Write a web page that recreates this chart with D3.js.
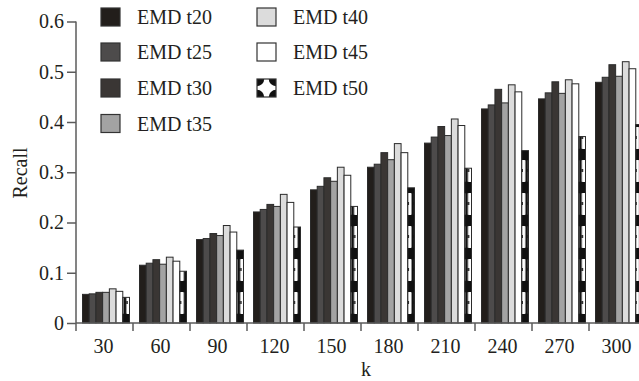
<!DOCTYPE html>
<html>
<head>
<meta charset="utf-8">
<script src="https://cdn.jsdelivr.net/npm/d3@7"></script>
<style>
  body { margin: 0; background: #fff; }
  svg { display: block; font-family: "Liberation Serif", "Times New Roman", serif; }
</style>
</head>
<body>
<svg id="chart" width="639" height="381"></svg>
<script>
// Recall of EMD with different thresholds, grouped by k
const kValues = ["30", "60", "90", "120", "150", "180", "210", "240", "270", "300"];
const seriesNames = ["EMD t20", "EMD t25", "EMD t30", "EMD t35", "EMD t40", "EMD t45", "EMD t50"];

const t20 = [0.057, 0.115, 0.166, 0.221, 0.265, 0.310, 0.358, 0.426, 0.446, 0.479];
const t25 = [0.058, 0.119, 0.168, 0.226, 0.272, 0.316, 0.370, 0.434, 0.458, 0.489];
const t30 = [0.061, 0.126, 0.178, 0.236, 0.289, 0.339, 0.391, 0.465, 0.480, 0.514];
const t35 = [0.061, 0.117, 0.174, 0.232, 0.282, 0.325, 0.373, 0.438, 0.457, 0.491];
const t40 = [0.068, 0.131, 0.194, 0.256, 0.310, 0.357, 0.406, 0.474, 0.484, 0.520];
const t45 = [0.063, 0.123, 0.181, 0.240, 0.294, 0.339, 0.393, 0.460, 0.476, 0.506];
const t50 = [0.051, 0.103, 0.145, 0.191, 0.232, 0.269, 0.308, 0.343, 0.371, 0.395];

const yTicks = [0, 0.1, 0.2, 0.3, 0.4, 0.5, 0.6];
const fills = ["#221e1b", "#4d4b4b", "#3a3634", "#a3a3a3", "#dcdcdc", "#ffffff", "pattern"];

const allSeries = [t20, t25, t30, t35, t40, t45, t50];
const rows = kValues.map((k, i) => ({ k, values: allSeries.map(s => s[i]) }));

const svg = d3.select("#chart");
const defs = svg.append("defs");
const serif = "Liberation Serif, Times New Roman, serif";

// Scales
const x0 = d3.scaleBand().domain(kValues).range([76, 646]).padding(0);
const x1 = d3.scaleBand().domain(seriesNames).range([6.5, 53.5]).padding(0);
const y = d3.scaleLinear().domain([0, 0.6]).range([323, 21.5]);

const axisColor = "#5b5b5b";
const textColor = "#231f20";

// Pattern for t50 bars: black with tall white slots, one pattern per bar so it lines up
function addBarPattern(id, px, bw) {
  const h = 33;
  const p = defs.append("pattern")
    .attr("id", id)
    .attr("patternUnits", "userSpaceOnUse")
    .attr("x", px).attr("y", y(0) - 4)
    .attr("width", bw).attr("height", h);
  p.append("rect").attr("width", bw).attr("height", h).attr("fill", "#111");
  p.append("rect").attr("x", 1.4).attr("y", 6).attr("width", bw - 2.8).attr("height", 22)
    .attr("rx", 0.8).attr("fill", "#fff");
  p.append("rect").attr("x", 1.4).attr("y", 15).attr("width", 1.4).attr("height", 3).attr("fill", "#111");
}

// Bars
const groups = svg.append("g")
  .selectAll("g")
  .data(rows)
  .join("g")
  .attr("transform", d => `translate(${x0(d.k)},0)`);

groups.selectAll("rect")
  .data((d, gi) => d.values.map((v, si) => ({ v, si, gi, k: d.k })))
  .join("rect")
  .attr("x", d => x1(seriesNames[d.si]))
  .attr("y", d => y(d.v))
  .attr("width", x1.bandwidth())
  .attr("height", d => y(0) - y(d.v))
  .attr("fill", d => {
    if (fills[d.si] !== "pattern") return fills[d.si];
    const id = "p50-" + d.gi;
    addBarPattern(id, x0(d.k) + x1(seriesNames[d.si]), x1.bandwidth());
    return `url(#${id})`;
  })
  .attr("stroke", "#2b2b2b")
  .attr("stroke-width", 1);

// Y axis
const yAxis = svg.append("g")
  .attr("transform", "translate(76,0)")
  .call(d3.axisLeft(y).tickValues(yTicks).tickSize(9).tickPadding(3)
    .tickFormat(d => d === 0 ? "0" : d3.format(".1f")(d)))
  .attr("font-family", serif)
  .attr("font-size", null);
yAxis.select(".domain").attr("stroke", axisColor).attr("stroke-width", 1.5)
  .attr("d", `M0,${y(0.6)}V${y(0) + 8}`);
yAxis.selectAll(".tick line").attr("stroke", axisColor).attr("stroke-width", 1.5);
yAxis.selectAll(".tick text").attr("fill", textColor)
  .style("font-size", "20px").style("font-family", serif);

// X axis: ticks at group boundaries, labels at group centres
const xAxisG = svg.append("g").attr("transform", `translate(0,${y(0)})`);
xAxisG.append("line")
  .attr("x1", x0.range()[0]).attr("x2", x0.range()[1])
  .attr("stroke", axisColor).attr("stroke-width", 1.5);
xAxisG.selectAll(".xtick")
  .data(kValues)
  .join("line")
  .attr("class", "xtick")
  .attr("x1", d => x0(d) + x0.bandwidth())
  .attr("x2", d => x0(d) + x0.bandwidth())
  .attr("y1", 0).attr("y2", 8)
  .attr("stroke", axisColor).attr("stroke-width", 1.5);
xAxisG.selectAll(".xlabel")
  .data(kValues)
  .join("text")
  .attr("class", "xlabel")
  .attr("x", d => x0(d) + x0.bandwidth() / 2 - 1)
  .attr("y", 30)
  .attr("text-anchor", "middle")
  .attr("fill", textColor)
  .style("font-size", "20px")
  .style("font-family", serif)
  .text(d => d);

// Axis titles
svg.append("text")
  .attr("x", 366).attr("y", 376)
  .attr("text-anchor", "middle")
  .attr("fill", textColor)
  .style("font-size", "20px")
  .style("font-family", serif)
  .text("k");

svg.append("text")
  .attr("transform", "translate(27,173) rotate(-90)")
  .attr("text-anchor", "middle")
  .attr("fill", textColor)
  .style("font-size", "20px")
  .style("font-family", serif)
  .text("Recall");

// Legend: two columns
const legendCols = [[0, 1, 2, 3], [4, 5, 6]];
const colX = [101, 257];
const rowY = [17, 52, 88, 123.5];
const sw = 19, sh = 18;

legendCols.forEach((col, ci) => {
  col.forEach((si, ri) => {
    const lx = colX[ci], ly = rowY[ri];
    let fill = fills[si];
    if (fill === "pattern") {
      const p = defs.append("pattern")
        .attr("id", "p50-legend")
        .attr("patternUnits", "userSpaceOnUse")
        .attr("x", lx).attr("y", ly - sh / 2)
        .attr("width", sw).attr("height", sh);
      p.append("rect").attr("width", sw).attr("height", sh).attr("fill", "#fff");
      [[0, 0], [sw, 0], [0, sh], [sw, sh]].forEach(([cx, cy]) => {
        p.append("circle").attr("cx", cx).attr("cy", cy).attr("r", sw * 0.38).attr("fill", "#111");
      });
      fill = "url(#p50-legend)";
    }
    svg.append("rect")
      .attr("x", lx).attr("y", ly - sh / 2)
      .attr("width", sw).attr("height", sh)
      .attr("fill", fill)
      .attr("stroke", "#333").attr("stroke-width", 1.2);
    svg.append("text")
      .attr("x", lx + 36).attr("y", ly + 7)
      .attr("fill", textColor)
      .style("font-size", "20px")
      .style("font-family", serif)
      .text(seriesNames[si]);
  });
});
</script>
</body>
</html>
